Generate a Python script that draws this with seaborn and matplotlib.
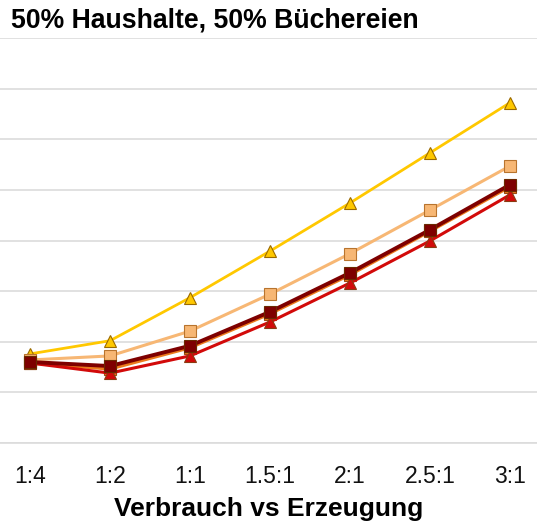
"""Line chart: 50% Haushalte, 50% Büchereien."""
import numpy as np
import pandas as pd
import matplotlib
matplotlib.use('Agg')
import matplotlib.pyplot as plt
import seaborn as sns

categories = ['1:4', '1:2', '1:1', '1.5:1', '2:1', '2.5:1', '3:1']

gold_vals = [1.76, 2.02, 2.87, 3.79, 4.74, 5.73, 6.72]
peach_vals = [1.64, 1.72, 2.21, 2.94, 3.74, 4.60, 5.47]
orange_vals = [1.58, 1.46, 1.88, 2.55, 3.32, 4.18, 5.06]
red_vals = [1.58, 1.38, 1.72, 2.39, 3.16, 3.99, 4.90]
darkred_vals = [1.60, 1.52, 1.92, 2.59, 3.36, 4.21, 5.10]

# name, values, colour, marker, edge, line width
series = [
    ('gold', gold_vals, '#FFC800', '^', '#9A6A00', 2.0),
    ('peach', peach_vals, '#F7B774', 's', '#B8742E', 2.2),
    ('orange', orange_vals, '#EC7A1C', 's', '#9C4A10', 2.2),
    ('red', red_vals, '#D20A0A', '^', '#8A3A10', 2.2),
    ('darkred', darkred_vals, '#7E0000', 's', '#6A2A00', 2.8),
]

sns.set_theme(style='white')
plt.rcParams['font.family'] = ['Liberation Sans', 'DejaVu Sans']

fig = plt.figure(figsize=(5.37, 5.23), dpi=100)
ax = fig.add_axes([0.0, 1 - 443 / 523, 1.0, (443 - 38) / 523])

x = np.arange(len(categories))
for name, vals, color, marker, edge, lw in series:
    df = pd.DataFrame({'pos': x, 'value': vals})
    sns.lineplot(data=df, x='pos', y='value', ax=ax, color=color, linewidth=lw,
                 marker=marker, markersize=8, markerfacecolor=color,
                 markeredgecolor=edge, markeredgewidth=0.8)

ax.set_xlim(-0.375, 6.34)
ax.set_ylim(0, 8)
ax.set_yticks(np.arange(0, 9, 1))
ax.set_yticklabels([])
ax.grid(axis='y', color='#DCDCDC', linewidth=1.2)
ax.set_axisbelow(True)

ax.set_xticks(x)
ax.set_xticklabels(categories, fontsize=16.5, color='#111111')
ax.set_xticks(x[:-1] + 0.5, minor=True)
ax.tick_params(axis='x', which='major', length=0, pad=16)
ax.tick_params(axis='x', which='minor', length=5, color='#DCDCDC', width=1.2)
ax.tick_params(axis='y', length=0)

for side in ['top', 'right', 'left']:
    ax.spines[side].set_visible(False)
ax.spines['bottom'].set_color('#DCDCDC')
ax.spines['bottom'].set_linewidth(1.2)

ax.set_xlabel('Verbrauch vs Erzeugung', fontsize=19, fontweight='bold',
              color='black', labelpad=6)
ax.set_ylabel('')
fig.text(11 / 537, 1 - 21 / 523, '50% Haushalte, 50% Büchereien', fontsize=19.2,
         fontweight='bold', color='black', ha='left', va='center')

fig.savefig('out.png', dpi=100)
